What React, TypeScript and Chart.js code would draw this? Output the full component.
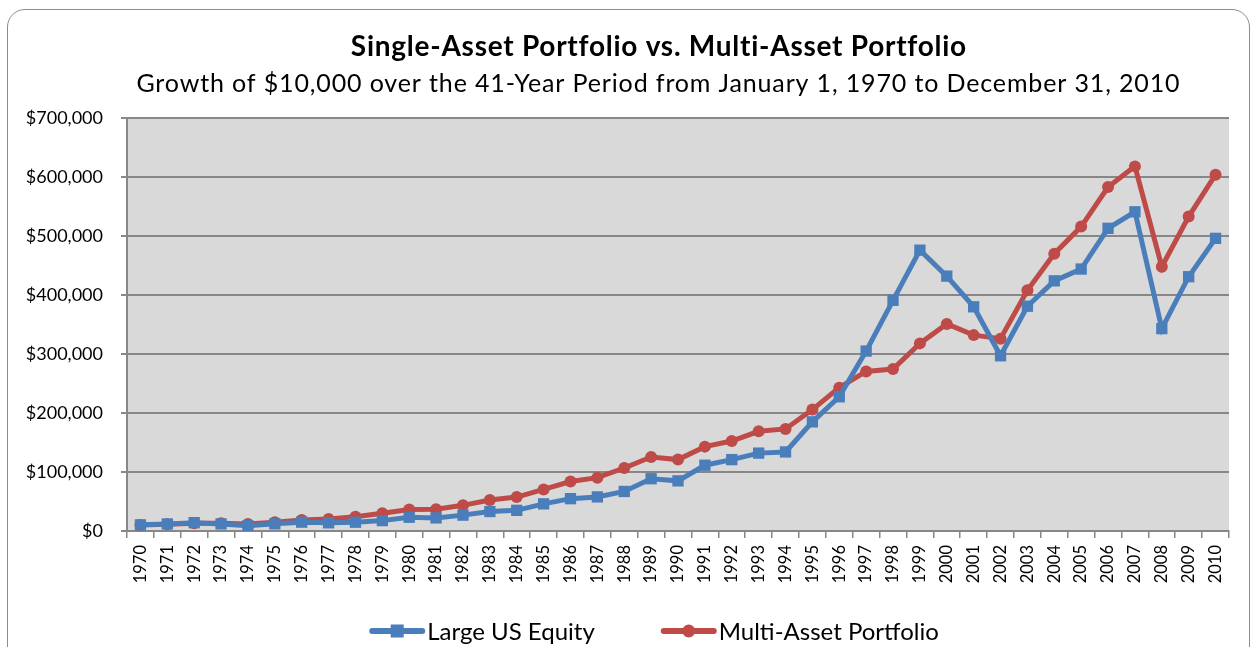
import React, { useEffect, useRef } from "react";
import { Chart, registerables } from "chart.js";

Chart.register(...registerables);

const years = [
  "1970", "1971", "1972", "1973", "1974", "1975", "1976", "1977", "1978", "1979",
  "1980", "1981", "1982", "1983", "1984", "1985", "1986", "1987", "1988", "1989",
  "1990", "1991", "1992", "1993", "1994", "1995", "1996", "1997", "1998", "1999",
  "2000", "2001", "2002", "2003", "2004", "2005", "2006", "2007", "2008", "2009",
  "2010",
];

const largeUSEquity = [
  10400, 11900, 14100, 12000, 8900, 12100, 15000, 13900, 14900, 17600,
  23300, 22200, 26900, 33000, 35000, 46000, 54800, 57800, 67000, 88600,
  85000, 111500, 121000, 132000, 134000, 185000, 227500, 305000, 391000, 476000,
  432000, 380000, 297000, 381000, 424000, 444000, 513000, 541000, 343000, 431000,
  496000,
];

const multiAssetPortfolio = [
  10200, 11500, 13000, 13000, 12000, 15000, 18500, 20500, 24000, 30000,
  36500, 37000, 43500, 52500, 57500, 70500, 83800, 90400, 106800, 125400,
  121000, 143000, 152500, 169000, 173000, 205800, 243000, 270500, 274500, 318000,
  351000, 332000, 326000, 408000, 470000, 516000, 583000, 618000, 448000, 533000,
  604000,
];

const yTickValues = [0, 100000, 200000, 300000, 400000, 500000, 600000, 700000];

const seriesNames = ["Large US Equity", "Multi-Asset Portfolio"];
const titleText = "Single-Asset Portfolio vs. Multi-Asset Portfolio";
const subtitleText =
  "Growth of $10,000 over the 41-Year Period from January 1, 1970 to December 31, 2010";

const BLUE = "#4a7ebb";
const RED = "#be4b48";
const GRID = "#878787";
const FONT = "Lato, 'Open Sans', sans-serif";

const plotBgPlugin = {
  id: "plotBg",
  beforeDraw(chart: any) {
    const { ctx, chartArea } = chart;
    ctx.save();
    ctx.fillStyle = "#d9d9d9";
    ctx.fillRect(
      chartArea.left,
      chartArea.top,
      chartArea.right - chartArea.left,
      chartArea.bottom - chartArea.top
    );
    ctx.restore();
  },
};

function drawSpacedText(ctx: any, text: string, cx: number, cy: number, font: string, targetWidth: number) {
  ctx.save();
  ctx.font = font;
  ctx.letterSpacing = "0px";
  const w = ctx.measureText(text).width;
  const spacing = Math.max(0, (targetWidth - w) / text.length);
  ctx.letterSpacing = `${spacing}px`;
  ctx.textAlign = "left";
  ctx.textBaseline = "middle";
  ctx.fillStyle = "#000";
  const total = w + spacing * text.length;
  ctx.fillText(text, cx - total / 2 + spacing / 2, cy);
  ctx.restore();
}

const titlesPlugin = {
  id: "titlesCustom",
  afterDraw(chart: any) {
    const { ctx } = chart;
    drawSpacedText(ctx, titleText, 658, 47, `bold 28px ${FONT}`, 615);
    drawSpacedText(ctx, subtitleText, 658, 84, `25px ${FONT}`, 1044);
  },
};

const legendPlugin = {
  id: "legendCustom",
  afterDraw(chart: any) {
    const { ctx } = chart;
    const y = 631;
    const lineLen = 56;
    const gapText = 2;
    const gapItems = 66;
    ctx.save();
    ctx.font = `24px ${FONT}`;
    const items = chart.data.datasets.map((ds: any) => ({
      ds,
      tw: ctx.measureText(ds.label).width,
    }));
    const total =
      items.reduce((s: number, it: any) => s + lineLen + gapText + it.tw, 0) +
      gapItems * (items.length - 1);
    let x = 654 - total / 2;
    for (const it of items) {
      const ds = it.ds;
      ctx.strokeStyle = ds.borderColor;
      ctx.lineWidth = 6;
      ctx.lineCap = "round";
      ctx.beginPath();
      ctx.moveTo(x + 3, y);
      ctx.lineTo(x + lineLen - 3, y);
      ctx.stroke();
      ctx.fillStyle = ds.borderColor;
      const cx = x + lineLen / 2;
      if (ds.pointStyle === "rect") {
        ctx.fillRect(cx - 6.5, y - 6.5, 13, 13);
      } else {
        ctx.beginPath();
        ctx.arc(cx, y, 6.5, 0, Math.PI * 2);
        ctx.fill();
      }
      ctx.fillStyle = "#000";
      ctx.textAlign = "left";
      ctx.textBaseline = "middle";
      ctx.fillText(ds.label, x + lineLen + gapText, y + 1);
      x += lineLen + gapText + it.tw + gapItems;
    }
    ctx.restore();
  },
};

export default function App() {
  const canvasRef = useRef<HTMLCanvasElement | null>(null);

  useEffect(() => {
    if (!canvasRef.current) return;
    const chart = new Chart(canvasRef.current, {
      type: "line",
      data: {
        labels: years,
        datasets: [
          {
            label: seriesNames[0],
            data: largeUSEquity,
            borderColor: BLUE,
            backgroundColor: BLUE,
            borderWidth: 5,
            pointStyle: "rect",
            pointRadius: 8,
            pointBorderWidth: 0,
            pointBackgroundColor: BLUE,
            tension: 0,
          },
          {
            label: seriesNames[1],
            data: multiAssetPortfolio,
            borderColor: RED,
            backgroundColor: RED,
            borderWidth: 5,
            pointStyle: "circle",
            pointRadius: 6,
            pointBorderWidth: 0,
            pointBackgroundColor: RED,
            tension: 0,
          },
        ],
      },
      options: {
        animation: false,
        responsive: true,
        maintainAspectRatio: false,
        layout: { padding: { left: 0, right: 21, top: 118, bottom: 56 } },
        plugins: {
          legend: { display: false },
          title: { display: false },
          tooltip: { enabled: false },
        },
        scales: {
          x: {
            type: "category",
            offset: true,
            afterFit(scale: any) {
              scale.height = 60;
            },
            grid: {
              display: true,
              drawOnChartArea: false,
              drawTicks: true,
              tickLength: 7,
              color: GRID,
              lineWidth: 1.5,
              offset: true,
            },
            border: { display: true, color: GRID, width: 2 },
            ticks: {
              autoSkip: false,
              minRotation: 90,
              maxRotation: 90,
              padding: 7,
              color: "#000",
              font: { family: FONT, size: 16.5 },
            },
          },
          y: {
            min: 0,
            max: 700000,
            afterFit(scale: any) {
              scale.width = 127;
            },
            afterBuildTicks(scale: any) {
              scale.ticks = yTickValues.map((v) => ({ value: v }));
            },
            grid: {
              color: GRID,
              lineWidth: 2,
              drawTicks: true,
              tickLength: 6,
            },
            border: { display: true, color: GRID, width: 2 },
            ticks: {
              padding: 18,
              color: "#000",
              font: { family: FONT, size: 18 },
              callback: (v: any) => "$" + Number(v).toLocaleString("en-US"),
            },
          },
        },
      },
      plugins: [plotBgPlugin, titlesPlugin, legendPlugin],
    });
    return () => chart.destroy();
  }, []);

  return (
    <div
      style={{
        position: "fixed",
        left: 0,
        top: 0,
        width: 1250,
        height: 647,
        background: "#fff",
        overflow: "hidden",
      }}
    >
      <div
        style={{
          position: "absolute",
          left: 7,
          top: 9,
          width: 1243,
          height: 700,
          border: "1.5px solid #8c8c8c",
          borderRadius: 18,
          boxSizing: "border-box",
        }}
      />
      <div style={{ position: "absolute", left: 0, top: 0, width: 1250, height: 647 }}>
        <canvas ref={canvasRef} />
      </div>
    </div>
  );
}
